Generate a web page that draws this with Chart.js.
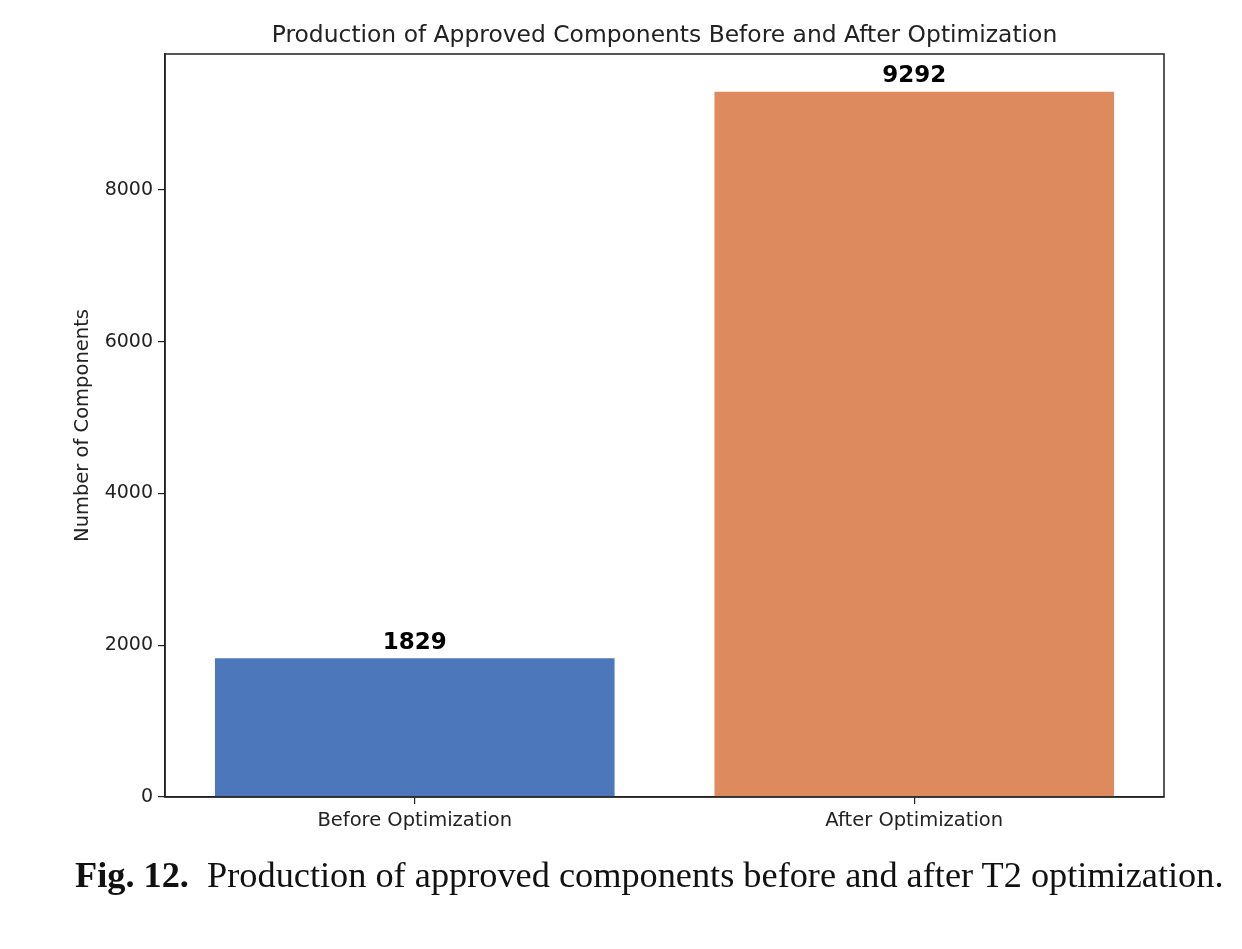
<!DOCTYPE html>
<html>
<head>
<meta charset="utf-8">
<script src="https://cdn.jsdelivr.net/npm/chart.js@4"></script>
<style>
  body { margin: 0; background: #fff; }
  #wrap { position: absolute; left: 0; top: 0; width: 1242px; height: 860px; }
  #caption { position: absolute; left: 75px; top: 854px; font-family: "Liberation Serif", serif; font-size: 36.3px; color: #111; white-space: nowrap; }
</style>
</head>
<body>
<div id="wrap"><canvas id="chart"></canvas></div>
<div id="caption"><b>Fig. 12.</b>&nbsp; Production of approved components before and after T2 optimization.</div>
<script>
// data
let categories = ["Before Optimization", "After Optimization"];
let counts = [1829, 9292];
let barColors = ["#4C77BB", "#DD8A5F"];
let yTicks = [0, 2000, 4000, 6000, 8000];
let chartTitle = "Production of Approved Components Before and After Optimization";

const ctx = document.getElementById("chart");

// cadre + titre centré sur la zone du graphe
const frame = {
  id: "frame",
  afterDraw(chart) {
    let a = chart.chartArea;
    let c = chart.ctx;
    c.save();
    c.strokeStyle = "#222";
    c.lineWidth = 1.5;
    c.strokeRect(a.left, a.top, a.right - a.left, a.bottom - a.top);
    c.font = "23.4px 'DejaVu Sans'";
    c.fillStyle = "#222";
    c.textAlign = "center";
    c.textBaseline = "middle";
    c.fillText(chartTitle, (a.left + a.right) / 2, 36);
    c.restore();
  }
};

// valeurs au dessus des barres
const valueLabels = {
  id: "valueLabels",
  afterDatasetsDraw(chart) {
    let c = chart.ctx;
    let meta = chart.getDatasetMeta(0);
    c.save();
    c.font = "bold 23px 'DejaVu Sans'";
    c.fillStyle = "#000";
    c.textAlign = "center";
    c.textBaseline = "bottom";
    meta.data.forEach((bar, i) => {
      c.fillText(counts[i], bar.x, bar.y - 4);
    });
    c.restore();
  }
};

new Chart(ctx, {
  type: "bar",
  data: {
    labels: categories,
    datasets: [{
      label: "Components",
      data: counts,
      backgroundColor: barColors,
      barPercentage: 0.8,
      categoryPercentage: 1.0
    }]
  },
  options: {
    responsive: true,
    maintainAspectRatio: false,
    animation: false,
    layout: { padding: { left: 71, right: 78, top: 54, bottom: 0 } },
    plugins: {
      legend: { display: false },
      tooltip: { enabled: false },
      title: { display: false }
    },
    scales: {
      x: {
        grid: { display: true, drawOnChartArea: false, offset: false, tickLength: 7, color: "#222", lineWidth: 1.2 },
        border: { display: true, color: "#222", width: 1.5 },
        ticks: { color: "#222", font: { family: "DejaVu Sans", size: 19.5 }, padding: 5 },
        afterFit(scale) { scale.height = 63; }
      },
      y: {
        min: 0,
        max: 9790,
        afterBuildTicks(scale) {
          scale.ticks = yTicks.map(v => ({ value: v }));
        },
        grid: { display: true, drawOnChartArea: false, tickLength: 7, color: "#222", lineWidth: 1.2 },
        border: { display: true, color: "#222", width: 1.5 },
        ticks: {
          color: "#222",
          font: { family: "DejaVu Sans", size: 19 },
          padding: 5,
          callback: v => String(v)
        },
        title: {
          display: true,
          text: "Number of Components",
          color: "#222",
          font: { family: "DejaVu Sans", size: 19.5 },
          padding: { top: 0, bottom: 0 }
        },
        afterFit(scale) { scale.width = 94; }
      }
    }
  },
  plugins: [frame, valueLabels]
});
</script>
</body>
</html>
